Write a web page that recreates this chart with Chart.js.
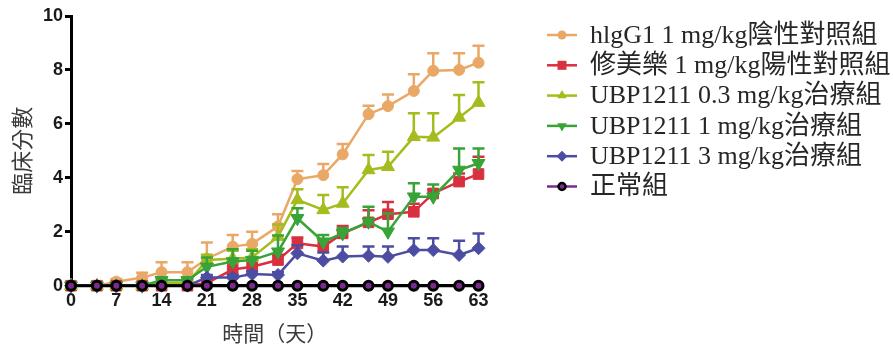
<!DOCTYPE html>
<html>
<head>
<meta charset="utf-8">
<style>
  html, body { margin: 0; padding: 0; background: #ffffff; }
  #wrap { width: 893px; height: 348px; }
</style>
<script src="https://cdn.jsdelivr.net/npm/chart.js@4/dist/chart.umd.min.js"></script>
</head>
<body>
<div id="wrap"><canvas id="c" width="893" height="348"></canvas></div>
<script>
// Observation days
const days = [0, 4, 7, 11, 14, 18, 21, 25, 28, 32, 35, 39, 42, 46, 49, 53, 56, 60, 63];

// Group names
const groupNames = [
  'hlgG1 1 mg/kg陰性對照組',
  '修美樂 1 mg/kg陽性對照組',
  'UBP1211 0.3 mg/kg治療組',
  'UBP1211 1 mg/kg治療組',
  'UBP1211 3 mg/kg治療組',
  '正常組'
];

// Mean clinical score per group
const igg1Mean   = [0, 0, 0.15, 0.3, 0.5, 0.5, 1.0, 1.45, 1.55, 2.2, 3.95, 4.1, 4.87, 6.36, 6.66, 7.22, 7.97, 8.0, 8.27];
const humiraMean = [0, 0, 0, 0, 0, 0, 0.1, 0.6, 0.7, 0.95, 1.57, 1.45, 1.94, 2.35, 2.65, 2.74, 3.42, 3.86, 4.14];
const ubp03Mean  = [0, 0, 0, 0, 0.1, 0.1, 0.95, 1.0, 1.05, 1.82, 3.18, 2.81, 3.05, 4.29, 4.41, 5.52, 5.5, 6.24, 6.79];
const ubp1Mean   = [0, 0, 0, 0, 0.2, 0.2, 0.7, 0.9, 0.95, 1.26, 2.5, 1.63, 1.94, 2.37, 2.0, 3.3, 3.3, 4.29, 4.54];
const ubp3Mean   = [0, 0, 0, 0, 0, 0, 0.3, 0.3, 0.43, 0.4, 1.2, 0.93, 1.08, 1.11, 1.07, 1.32, 1.32, 1.14, 1.39];
const normalMean = [0, 0, 0, 0, 0, 0, 0, 0, 0, 0, 0, 0, 0, 0, 0, 0, 0, 0, 0];

// Standard error (upper bar) per group
const igg1Err   = [0, 0, 0.1, 0.18, 0.37, 0.37, 0.6, 0.43, 0.45, 0.45, 0.3, 0.41, 0.38, 0.31, 0.43, 0.62, 0.65, 0.62, 0.63];
const humiraErr = [0, 0, 0, 0, 0, 0, 0, 0.26, 0.3, 0.2, 0.22, 0.25, 0.27, 0.45, 0.45, 0.3, 0.15, 0.3, 0.64];
const ubp03Err  = [0, 0, 0, 0, 0.05, 0.05, 0.2, 0.3, 0.3, 0.45, 0.4, 0.55, 0.6, 0.56, 0.56, 0.87, 0.89, 0.83, 0.75];
const ubp1Err   = [0, 0, 0, 0, 0.05, 0.05, 0.35, 0.45, 0.35, 0.6, 0.37, 0.25, 0.2, 0.56, 0.68, 0.5, 0.45, 0.8, 0.55];
const ubp3Err   = [0, 0, 0, 0, 0, 0, 0.1, 0.1, 0.1, 0.1, 0.3, 0.3, 0.37, 0.34, 0.38, 0.44, 0.44, 0.53, 0.55];
const normalErr = [0, 0, 0, 0, 0, 0, 0, 0, 0, 0, 0, 0, 0, 0, 0, 0, 0, 0, 0];

// Axis ticks
const xTicks = [0, 7, 14, 21, 28, 35, 42, 49, 56, 63];
const yTicks = [0, 2, 4, 6, 8, 10];

const toPoints = (vals) => vals.map((v, i) => ({ x: days[i], y: v }));

const TICK_FONT = { family: '"Liberation Sans", Arial, sans-serif', size: 18, weight: 'bold' };
const CJK = '"Noto Sans CJK TC", "Noto Sans CJK SC", sans-serif';

function series(label, means, errs, color, style, extra) {
  return Object.assign({
    label: label,
    data: toPoints(means),
    errors: errs,
    borderColor: color,
    backgroundColor: color,
    pointBackgroundColor: color,
    pointBorderColor: color,
    pointBorderWidth: 1,
    borderWidth: 2.5,
    pointStyle: style,
    tension: 0,
    clip: false
  }, extra || {});
}

const datasets = [
  series(groupNames[0], igg1Mean, igg1Err, '#E9A866', 'circle', { pointRadius: 5.5, order: 5, legendRadius: 4.5 }),
  series(groupNames[1], humiraMean, humiraErr, '#D8303E', 'rect', { pointRadius: 7.5, order: 4, legendRadius: 6 }),
  series(groupNames[2], ubp03Mean, ubp03Err, '#A6BC1E', 'triangle', { pointRadius: 7.5, order: 3, legendRadius: 5.5 }),
  series(groupNames[3], ubp1Mean, ubp1Err, '#38A337', 'triangle', { pointRadius: 7.5, pointRotation: 180, order: 2, legendRadius: 5.5 }),
  series(groupNames[4], ubp3Mean, ubp3Err, '#4C4DA2', 'rectRot', { pointRadius: 6.5, order: 1, legendRadius: 5.5 }),
  series(groupNames[5], normalMean, normalErr, '#000000', 'circle', {
    pointRadius: 4.5, pointBorderWidth: 3, pointBackgroundColor: '#7B2A90', pointBorderColor: '#000000',
    borderWidth: 3, order: 0, legendRadius: 3.5, legendLine: '#7B2A90'
  })
];

// Upper error bars with caps, drawn under each dataset's line and markers
const errorBars = {
  id: 'errorBars',
  beforeDatasetDraw(chart, args) {
    const ds = chart.data.datasets[args.index];
    if (!ds.errors) return;
    const { ctx, scales: { x, y } } = chart;
    ctx.save();
    ctx.strokeStyle = ds.borderColor;
    ctx.lineWidth = 2.5;
    ds.data.forEach((p, i) => {
      const e = ds.errors[i];
      if (!e) return;
      const px = x.getPixelForValue(p.x);
      const y0 = y.getPixelForValue(p.y);
      const y1 = y.getPixelForValue(p.y + e);
      ctx.beginPath();
      ctx.moveTo(px, y0);
      ctx.lineTo(px, y1);
      ctx.moveTo(px - 6, y1);
      ctx.lineTo(px + 6, y1);
      ctx.stroke();
    });
    ctx.restore();
  }
};

function legendMarker(ctx, ds, cx, cy) {
  const r = ds.legendRadius;
  ctx.save();
  ctx.fillStyle = ds.pointBackgroundColor;
  ctx.strokeStyle = ds.pointBorderColor;
  ctx.beginPath();
  if (ds.pointStyle === 'circle') {
    ctx.arc(cx, cy, r, 0, Math.PI * 2);
  } else if (ds.pointStyle === 'rect') {
    ctx.rect(cx - r * 0.75, cy - r * 0.75, r * 1.5, r * 1.5);
  } else if (ds.pointStyle === 'rectRot') {
    ctx.moveTo(cx - r, cy); ctx.lineTo(cx, cy - r); ctx.lineTo(cx + r, cy); ctx.lineTo(cx, cy + r);
  } else if (ds.pointStyle === 'triangle') {
    const s = ds.pointRotation ? -1 : 1;
    ctx.moveTo(cx, cy - s * r);
    ctx.lineTo(cx + r * 0.87, cy + s * r * 0.5);
    ctx.lineTo(cx - r * 0.87, cy + s * r * 0.5);
  }
  ctx.closePath();
  ctx.fill();
  if (ds.pointBorderWidth > 1) {
    ctx.lineWidth = 2.5;
    ctx.stroke();
  }
  ctx.restore();
}

// Legend to the right: line + marker sample, then group name
const sideLegend = {
  id: 'sideLegend',
  afterDraw(chart) {
    const { ctx } = chart;
    ctx.save();
    ctx.font = '26px "Liberation Serif", "Noto Sans CJK TC", serif';
    ctx.textBaseline = 'middle';
    ctx.textAlign = 'left';
    chart.data.datasets.forEach((ds, i) => {
      const cy = 35 + i * 30.3;
      ctx.strokeStyle = ds.legendLine || ds.borderColor;
      ctx.lineWidth = 2.5;
      ctx.beginPath();
      ctx.moveTo(547, cy);
      ctx.lineTo(577, cy);
      ctx.stroke();
      legendMarker(ctx, ds, 562, cy);
      ctx.fillStyle = '#262626';
      ctx.fillText(ds.label, 590, cy + 1);
    });
    ctx.restore();
  }
};

new Chart(document.getElementById('c'), {
  type: 'line',
  data: { datasets: datasets },
  plugins: [errorBars, sideLegend],
  options: {
    responsive: false,
    devicePixelRatio: 1,
    animation: false,
    layout: { padding: { left: 0, top: 16, right: 414.5, bottom: 0 } },
    plugins: { legend: { display: false }, tooltip: { enabled: false } },
    scales: {
      x: {
        type: 'linear',
        min: xTicks[0],
        max: xTicks[xTicks.length - 1],
        afterBuildTicks: (s) => { s.ticks = xTicks.map(v => ({ value: v })); },
        ticks: { font: TICK_FONT, color: '#1a1a1a', padding: 0, autoSkip: false, maxRotation: 0 },
        grid: { drawOnChartArea: false, drawTicks: true, tickLength: 5, tickColor: '#000', lineWidth: 3 },
        border: { display: true, color: '#000', width: 3 },
        title: { display: true, text: '時間（天）', font: { family: CJK, size: 21 }, color: '#3a3a3a', padding: { top: 8.1, bottom: 2.4 } }
      },
      y: {
        type: 'linear',
        min: yTicks[0],
        max: yTicks[yTicks.length - 1],
        afterBuildTicks: (s) => { s.ticks = yTicks.map(v => ({ value: v })); },
        ticks: { font: TICK_FONT, color: '#1a1a1a', padding: 2 },
        grid: { drawOnChartArea: false, drawTicks: true, tickLength: 6, tickColor: '#000', lineWidth: 3 },
        border: { display: true, color: '#000', width: 3 },
        title: { display: true, text: '臨床分數', font: { family: CJK, size: 22 }, color: '#3a3a3a', padding: { top: 8.8, bottom: 5.8 } }
      }
    }
  }
});
</script>
</body>
</html>
